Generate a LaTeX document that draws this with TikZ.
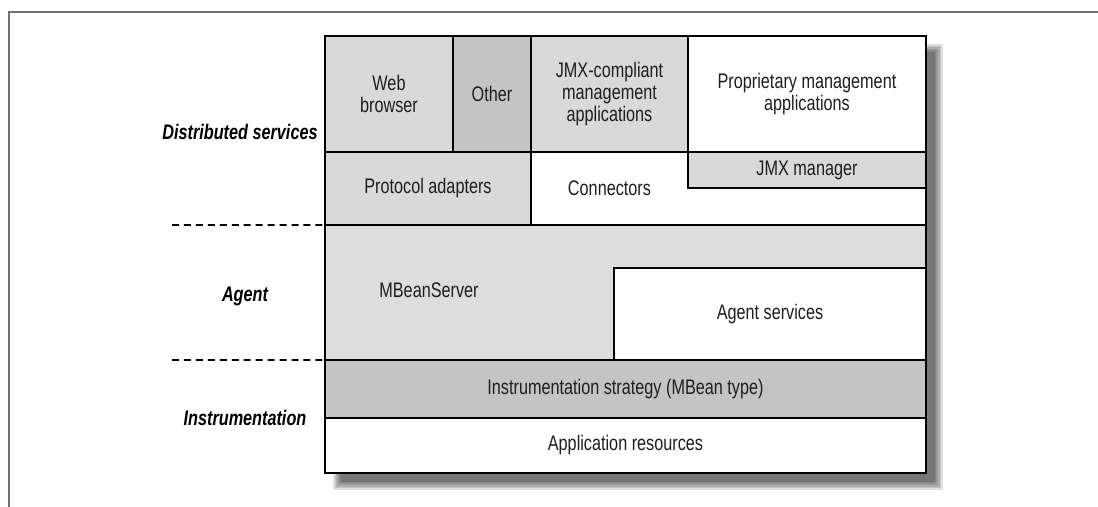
\documentclass[tikz,border=0pt]{standalone}
\usepackage{fontspec}
\setmainfont{Liberation Sans}[FakeStretch=0.77]
\usepackage{tikz}
\usepackage{xcolor}
\usetikzlibrary{positioning,calc,backgrounds}
\definecolor{cellgray}{RGB}{217,217,217}
\definecolor{lightcell}{RGB}{221,221,221}
\definecolor{darkcell}{RGB}{196,196,196}
\definecolor{framegray}{RGB}{112,112,112}
\definecolor{inkgray}{RGB}{30,30,30}

\begin{document}
\begin{tikzpicture}[
  cell/.style={draw=black, line width=1.3pt, inner sep=0pt, outer sep=0pt, anchor=north west,
    align=center, text=inkgray, font=\fontsize{15}{15.5}\selectfont},
  side/.style={font=\fontsize{15}{16}\selectfont\bfseries\itshape},
  sepline/.style={line width=1.2pt, dash pattern=on 5pt off 3.5pt}]
  \useasboundingbox (0,0) rectangle (27.45,-12.675);
  % page frame
  \draw[framegray, line width=2pt] (27.45,-0.3) -- (0.225,-0.3) -- (0.225,-12.675);

  % distributed services
  \node[cell, fill=cellgray, minimum width=3.2cm, minimum height=2.9cm] (web) at (8.125,-0.9) {Web\\browser};
  \node[cell, fill=darkcell, minimum width=1.95cm, minimum height=2.9cm, right=0pt of web] (other) {Other};
  \node[cell, fill=cellgray, minimum width=3.925cm, minimum height=2.9cm, right=0pt of other] (jmxapp) {JMX-compliant\\management\\applications};
  \node[cell, fill=white, minimum width=5.95cm, minimum height=2.9cm, right=0pt of jmxapp] (propapp) {Proprietary management\\applications};
  \node[cell, fill=cellgray, minimum width=5.15cm, minimum height=1.825cm] (adapters) at (web.south west) {Protocol adapters};
  \node[cell, draw=none, minimum width=3.925cm, minimum height=1.825cm] (connectors) at (jmxapp.south west) {Connectors};
  \node[cell, fill=cellgray, minimum width=5.95cm, minimum height=0.9cm] (jmxmgr) at (propapp.south west) {JMX manager};

  % agent
  \node[cell, fill=lightcell, minimum width=15.025cm, minimum height=3.375cm] (mbsrv) at (adapters.south west) {};
  \node[text=inkgray, font=\fontsize{15}{15.5}\selectfont] (mbsrvtext) at ($(mbsrv.west)+(2.6,0.06)$) {MBeanServer};
  \node[cell, fill=white, anchor=south east, minimum width=7.8cm, minimum height=2.3cm] (agentsvc) at (mbsrv.south east) {Agent services};

  % instrumentation
  \node[cell, fill=darkcell, minimum width=15.025cm, minimum height=1.45cm] (strategy) at (mbsrv.south west) {Instrumentation strategy (MBean type)};
  \node[cell, fill=white, minimum width=15.025cm, minimum height=1.375cm] (resources) at (strategy.south west) {Application resources};
  \draw[line width=1.3pt] (web.north west) rectangle (resources.south east);

  % shadow and body
  \begin{scope}[on background layer]
    \foreach \k in {0,...,5}
      \fill[black, opacity=0.12] ($(web.north west)+(0.2+0.04*\k,-0.2-0.04*\k)$) rectangle ($(resources.south east)+(0.42-0.04*\k,-0.42+0.04*\k)$);
    \fill[white] (web.north west) rectangle (resources.south east);
  \end{scope}

  % layer labels
  \node[side] (distlbl) at (6.0,-3.3) {Distributed services};
  \node[side] (agentlbl) at (6.125,-7.4) {Agent};
  \node[side] (instrlbl) at (6.125,-10.45) {Instrumentation};
  \coordinate (dashA) at (4.3,-5.625);
  \coordinate (dashB) at (4.3,-9.0);
  \draw[sepline] (dashA) -- (mbsrv.north west);
  \draw[sepline] (dashB) -- (strategy.north west);
\end{tikzpicture}
\end{document}
